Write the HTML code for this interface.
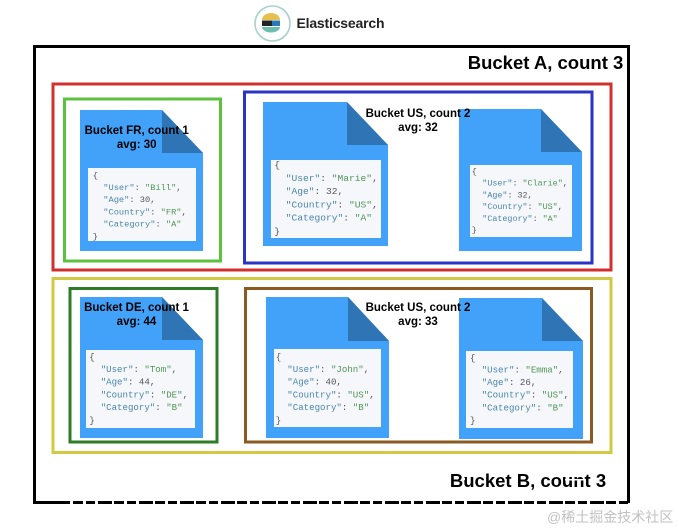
<!DOCTYPE html>
<html><head><meta charset="utf-8">
<style>
html,body{margin:0;padding:0;background:#fff}
svg{display:block;filter:blur(.35px)}
.m{font-family:"Liberation Mono",monospace;fill:#4a86a8}
.m .s{fill:#4f9555}.m .p{fill:#555}
.l{font-family:"Liberation Sans",sans-serif;font-weight:bold;fill:#000;text-anchor:middle}
.d{fill:#42a1f8}.f{fill:#2f75b5}.c{fill:#f5f7fb}
rect.b{fill:none;stroke-width:3}
</style></head><body>
<svg width="679" height="530" viewBox="0 0 679 530" xmlns="http://www.w3.org/2000/svg">
<rect width="679" height="530" fill="#fff"/>
<circle cx="272.500" cy="23.500" r="17.500" fill="#fff" stroke="#a8d0cd" stroke-width="1.600"/>
<path d="M262 20a9 7 0 0 1 18 0z" fill="#e6c04f"/>
<rect x="262" y="20.500" width="10" height="5.500" fill="#222"/>
<rect x="272" y="20.500" width="8" height="5.500" fill="#2b78b8"/>
<path d="M262 27h18a9 5.500 0 0 1-18 0z" fill="#6cbfae"/>
<text x="296.500" y="28" font-family="Liberation Sans,sans-serif" font-weight="bold" font-size="14" fill="#222" textLength="88">Elasticsearch</text>

<path d="M628.500 46.500H34.500V502.500H70" fill="none" stroke="#000" stroke-width="3"/>
<path d="M73 502.500H630" fill="none" stroke="#000" stroke-width="3" stroke-dasharray="10 3 9 3 14 2"/>
<path d="M628.500 45V503" fill="none" stroke="#000" stroke-width="3"/>

<rect class="b" x="53" y="84" width="558" height="186" stroke="#d0312d"/>
<rect class="b" x="53" y="278.500" width="558" height="174" stroke="#d2c943"/>
<rect class="b" x="64.500" y="99" width="156" height="162" stroke="#5cc23e"/>
<rect class="b" x="244.500" y="92" width="347.500" height="171" stroke="#2a35c6"/>
<rect class="b" x="70" y="288.500" width="147" height="153.500" stroke="#2e7d26"/>
<rect class="b" x="245.500" y="288.500" width="346" height="153.500" stroke="#8a5a20"/>

<!-- FR -->
<path class="d" d="M80 110H162L203 153V251H80z"/><path class="f" d="M162 110L203 153H162z"/>
<rect class="c" x="88" y="168" width="108" height="73"/>
<g class="m" font-size="8.700">
<text x="92.700" y="178" class="p">{</text>
<text x="103.300" y="190">"User"<tspan class="p">: </tspan><tspan class="s">"Bill"</tspan><tspan class="p">,</tspan></text>
<text x="103.300" y="202.200">"Age"<tspan class="p">: 30,</tspan></text>
<text x="103.300" y="214.400">"Country"<tspan class="p">: </tspan><tspan class="s">"FR"</tspan><tspan class="p">,</tspan></text>
<text x="103.300" y="226.600">"Category"<tspan class="p">: </tspan><tspan class="s">"A"</tspan></text>
<text x="92.700" y="238.800" class="p">}</text>
</g>
<!-- Marie -->
<path class="d" d="M263 102H347L388 145V246H263z"/><path class="f" d="M347 102L388 145H347z"/>
<rect class="c" x="271" y="160" width="110" height="78"/>
<g class="m" font-size="9.600">
<text x="274.300" y="167.500" class="p">{</text>
<text x="285.700" y="180.800">"User"<tspan class="p">: </tspan><tspan class="s">"Marie"</tspan><tspan class="p">,</tspan></text>
<text x="285.700" y="194.100">"Age"<tspan class="p">: 32,</tspan></text>
<text x="285.700" y="207.400">"Country"<tspan class="p">: </tspan><tspan class="s">"US"</tspan><tspan class="p">,</tspan></text>
<text x="285.700" y="220.700">"Category"<tspan class="p">: </tspan><tspan class="s">"A"</tspan></text>
<text x="274.300" y="234" class="p">}</text>
</g>
<!-- Clarie -->
<path class="d" d="M459 109H541L582 152V251H459z"/><path class="f" d="M541 109L582 152H541z"/>
<rect class="c" x="470" y="165" width="102" height="72"/>
<g class="m" font-size="8.400">
<text x="471.700" y="174" class="p">{</text>
<text x="482.300" y="185.700">"User"<tspan class="p">: </tspan><tspan class="s">"Clarie"</tspan><tspan class="p">,</tspan></text>
<text x="482.300" y="197.400">"Age"<tspan class="p">: 32,</tspan></text>
<text x="482.300" y="209.100">"Country"<tspan class="p">: </tspan><tspan class="s">"US"</tspan><tspan class="p">,</tspan></text>
<text x="482.300" y="220.800">"Category"<tspan class="p">: </tspan><tspan class="s">"A"</tspan></text>
<text x="471.700" y="232.500" class="p">}</text>
</g>
<!-- DE -->
<path class="d" d="M80 297H162L203 340V438H80z"/><path class="f" d="M162 297L203 340H162z"/>
<rect class="c" x="86" y="350" width="109" height="78"/>
<g class="m" font-size="9.100">
<text x="89.300" y="359.500" class="p">{</text>
<text x="100.700" y="372">"User"<tspan class="p">: </tspan><tspan class="s">"Tom"</tspan><tspan class="p">,</tspan></text>
<text x="100.700" y="384.700">"Age"<tspan class="p">: 44,</tspan></text>
<text x="100.700" y="397.400">"Country"<tspan class="p">: </tspan><tspan class="s">"DE"</tspan><tspan class="p">,</tspan></text>
<text x="100.700" y="410.100">"Category"<tspan class="p">: </tspan><tspan class="s">"B"</tspan></text>
<text x="89.300" y="422.800" class="p">}</text>
</g>
<!-- John -->
<path class="d" d="M266 297H348L389 341V438H266z"/><path class="f" d="M348 297L389 341H348z"/>
<rect class="c" x="274" y="349" width="107" height="78"/>
<g class="m" font-size="9.100">
<text x="275.700" y="359.700" class="p">{</text>
<text x="287.300" y="372">"User"<tspan class="p">: </tspan><tspan class="s">"John"</tspan><tspan class="p">,</tspan></text>
<text x="287.300" y="384.700">"Age"<tspan class="p">: 40,</tspan></text>
<text x="287.300" y="397.400">"Country"<tspan class="p">: </tspan><tspan class="s">"US"</tspan><tspan class="p">,</tspan></text>
<text x="287.300" y="410.100">"Category"<tspan class="p">: </tspan><tspan class="s">"B"</tspan></text>
<text x="275.700" y="422.800" class="p">}</text>
</g>
<!-- Emma -->
<path class="d" d="M459 298H542L583 341V439H459z"/><path class="f" d="M542 298L583 341H542z"/>
<rect class="c" x="466" y="351" width="107" height="77"/>
<g class="m" font-size="9.100">
<text x="470" y="360.300" class="p">{</text>
<text x="481.700" y="372.300">"User"<tspan class="p">: </tspan><tspan class="s">"Emma"</tspan><tspan class="p">,</tspan></text>
<text x="481.700" y="385">"Age"<tspan class="p">: 26,</tspan></text>
<text x="481.700" y="397.700">"Country"<tspan class="p">: </tspan><tspan class="s">"US"</tspan><tspan class="p">,</tspan></text>
<text x="481.700" y="410.400">"Category"<tspan class="p">: </tspan><tspan class="s">"B"</tspan></text>
<text x="470" y="423.100" class="p">}</text>
</g>

<g class="l" font-size="11.500">
<text x="136.700" y="134">Bucket FR, count 1</text><text x="136.700" y="148">avg: 30</text>
<text x="418" y="117">Bucket US, count 2</text><text x="418" y="131">avg: 32</text>
<text x="136.500" y="311">Bucket DE, count 1</text><text x="136.500" y="325">avg: 44</text>
<text x="418" y="311">Bucket US, count 2</text><text x="418" y="325">avg: 33</text>
</g>
<text class="l" x="545.500" y="69" font-size="18.500">Bucket A, count 3</text>
<text class="l" x="528" y="487" font-size="18.500">Bucket B, count 3</text>
<rect x="462" y="478" width="3" height="2" fill="#fff"/><rect x="565" y="479" width="20" height="1.500" fill="#fff"/>
<text x="547" y="522" font-family="Liberation Sans,Noto Sans CJK SC,sans-serif" font-size="14" fill="#c2c2c2">@稀土掘金技术社区</text>
</svg>
</body></html>
